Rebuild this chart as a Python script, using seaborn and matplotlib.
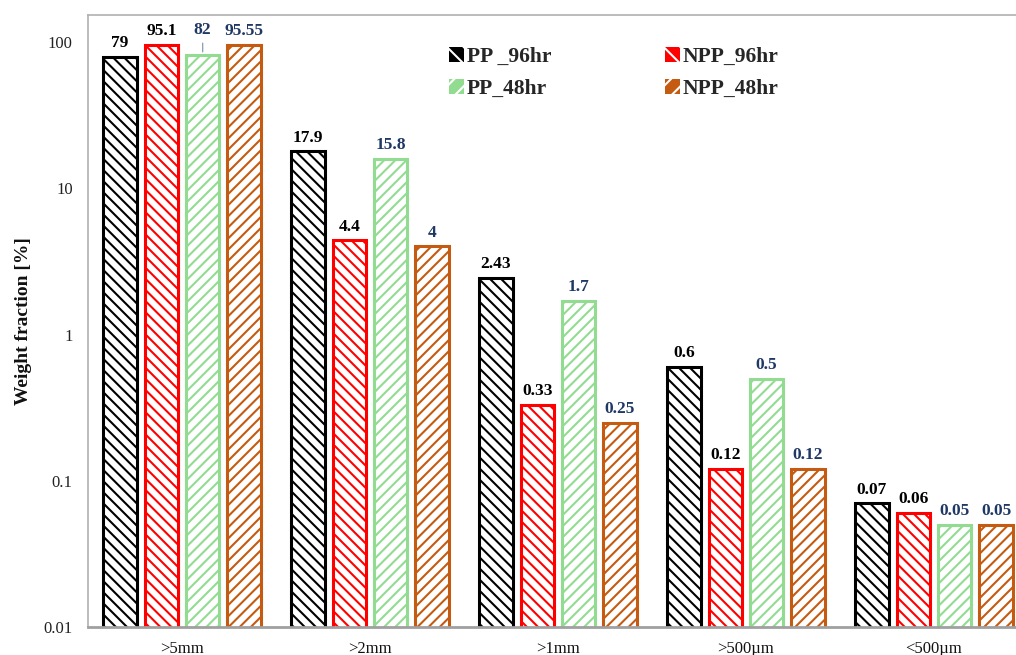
import matplotlib
matplotlib.use("Agg")
import matplotlib.pyplot as plt
from matplotlib.patches import Patch
import seaborn as sns
import pandas as pd

# Size fractions and weight fractions [%] per sample
categories = [">5mm", ">2mm", ">1mm", ">500\u00b5m", "<500\u00b5m"]
series_names = ["PP _96hr", "NPP_96hr", "PP_48hr", "NPP_48hr"]
pp_96 = [79, 17.9, 2.43, 0.6, 0.07]
npp_96 = [95.1, 4.4, 0.33, 0.12, 0.06]
pp_48 = [82, 15.8, 1.7, 0.5, 0.05]
npp_48 = [95.55, 4, 0.25, 0.12, 0.05]
value_labels = [
    ["79", "17.9", "2.43", "0.6", "0.07"],
    ["95.1", "4.4", "0.33", "0.12", "0.06"],
    ["82", "15.8", "1.7", "0.5", "0.05"],
    ["95.55", "4", "0.25", "0.12", "0.05"],
]
y_ticks = [0.01, 0.1, 1, 10, 100]
y_tick_labels = ["0.01", "0.1", "1", "10", "100"]

edge_colors = ["#000000", "#ff0000", "#92dc92", "#c55a11"]
text_colors = ["#000000", "#000000", "#1f3864", "#1f3864"]
hatches = ["\\\\\\", "\\\\\\", "///", "///"]

df = pd.DataFrame({
    "size": categories * 4,
    "sample": [s for s in series_names for _ in categories],
    "fraction": pp_96 + npp_96 + pp_48 + npp_48,
})

sns.set_theme(style="white")
plt.rcParams["font.family"] = ["Liberation Serif", "DejaVu Serif"]
plt.rcParams["hatch.linewidth"] = 1.5

fig = plt.figure(figsize=(10.16, 6.55), dpi=100)
ax = fig.add_axes([88 / 1016, 28 / 655, 940 / 1016, 612 / 655])

sns.barplot(data=df, x="size", y="fraction", hue="sample", order=categories,
            hue_order=series_names, palette=edge_colors, width=0.88, gap=0.2,
            ax=ax, legend=False, errorbar=None)

ax.set_yscale("log")
ax.set_ylim(0.01, 153)
ax.set_xlim(-0.5, 4.5)

for i, cont in enumerate(ax.containers):
    for bar in cont:
        bar.set_facecolor("white")
        bar.set_edgecolor(edge_colors[i])
        bar.set_hatch(hatches[i])
        bar.set_linewidth(2.2)

# Value labels above each bar
for i, cont in enumerate(ax.containers):
    for j, bar in enumerate(cont):
        x = bar.get_x() + bar.get_width() / 2
        h = bar.get_height()
        if i == 2 and j == 0:
            ax.annotate(value_labels[i][j], xy=(x, h), xytext=(0, 14.5),
                        textcoords="offset points", ha="center", va="baseline",
                        fontsize=12.5, fontweight="bold", color=text_colors[i],
                        arrowprops=dict(arrowstyle="-", color="#8a9bb0", lw=0.9,
                                        shrinkA=1, shrinkB=2))
        else:
            ax.annotate(value_labels[i][j], xy=(x, h), xytext=(0, 7),
                        textcoords="offset points", ha="center", va="baseline",
                        fontsize=12.5, fontweight="bold", color=text_colors[i])

ax.set_yticks(y_ticks)
ax.set_yticklabels(y_tick_labels)
ax.minorticks_off()
ax.tick_params(axis="y", length=0, pad=11, labelsize=12, labelcolor="#222222")
ax.tick_params(axis="x", length=0, pad=10, labelsize=12, labelcolor="#111111")
ax.set_xlabel("")
ax.set_ylabel("Weight fraction [%]", fontsize=14, fontweight="bold", color="#111111")
ax.yaxis.set_label_coords(-0.06, 0.5)

for side in ["left", "top", "right"]:
    ax.spines[side].set_color("#b0b0b0")
    ax.spines[side].set_linewidth(1.2)
ax.spines["bottom"].set_color("#a0a0a0")
ax.spines["bottom"].set_linewidth(2)

# Legend laid out row by row: 96hr samples on top, 48hr samples below
handles = [Patch(facecolor=c, edgecolor="white", hatch=h[:2], linewidth=0)
           for c, h in zip(edge_colors, hatches)]
order = [0, 2, 1, 3]
leg = ax.legend([handles[k] for k in order], [series_names[k] for k in order],
                ncol=2, loc="upper left",
                bbox_to_anchor=(438 / 1016, 1 - 36 / 655), bbox_transform=fig.transFigure,
                frameon=False, handlelength=0.7, handleheight=0.7, handletextpad=0.15,
                columnspacing=5.25, labelspacing=0.55, borderpad=0,
                prop={"family": ["Liberation Serif"], "weight": "bold", "size": 15.5})

fig.savefig("out.png", dpi=100)
